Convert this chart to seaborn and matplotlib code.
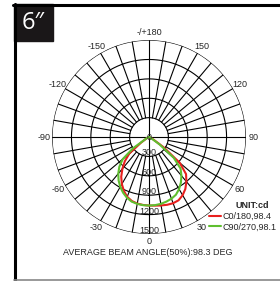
import numpy as np
import pandas as pd
import matplotlib
matplotlib.use("Agg")
import matplotlib.pyplot as plt
from matplotlib.lines import Line2D
from matplotlib.patches import Rectangle
import seaborn as sns

# photometric data (cd), gamma angle in degrees
gamma = [-90, -80, -70, -60, -55, -50, -45, -40, -35, -30, -25, -20, -15, -10, -5, 0,
         5, 10, 15, 20, 25, 30, 35, 40, 45, 50, 55, 60, 70, 80, 90]
c0_180 = [0, 5, 20, 50, 150, 400, 530, 640, 750, 840, 920, 985, 1025, 1045, 1055, 1060,
          1065, 1075, 1085, 1090, 1080, 1040, 980, 900, 810, 620, 280, 80, 20, 5, 0]
c90_270 = [0, 5, 20, 60, 300, 530, 650, 740, 820, 890, 950, 1000, 1035, 1050, 1058, 1060,
           1058, 1050, 1035, 1015, 985, 930, 860, 780, 690, 500, 200, 50, 20, 5, 0]

rings = [300, 600, 900, 1200, 1500]
angle_ticks = [0, 30, 60, 90, 120, 150, 180, -150, -120, -90, -60, -30]
angle_labels = ["0", "30", "60", "90", "120", "150", "-/+180", "-150", "-120", "-90", "-60", "-30"]
legend_labels = ["C0/180,98.4", "C90/270,98.1"]
colors = ["#e8201e", "#5fbf2f"]
title = "AVERAGE BEAM ANGLE(50%):98.3 DEG"

sns.set_theme(style="white")
plt.rcParams["font.family"] = ["Liberation Sans", "DejaVu Sans"]

fig = plt.figure(figsize=(2.80, 2.81), dpi=100)
fig.patch.set_facecolor("white")
ax = fig.add_axes([0.1857, 0.1673, 0.693, 0.690], projection="polar")
ax.set_theta_zero_location("S")
ax.set_theta_direction(1)
ax.set_ylim(0, 1500)
ax.grid(False)
ax.set_xticks([])
ax.set_yticks([])
ax.spines["polar"].set_visible(False)
ax.set_facecolor("white")

# grid: rings and spokes
full = np.linspace(0, 2 * np.pi, 361)
for r in rings:
    ax.plot(full, np.full_like(full, r), color="black", lw=0.8, zorder=1)
for a in range(0, 360, 10):
    t = np.deg2rad(a)
    r0 = 0 if a % 90 == 0 else 300
    ax.plot([t, t], [r0, 1500], color="black", lw=0.8, zorder=1)

# curves
df = pd.DataFrame({"theta": np.deg2rad(gamma), "C0": c0_180, "C90": c90_270})
sns.lineplot(x=df["theta"], y=df["C0"], ax=ax, sort=False, estimator=None,
             color=colors[0], lw=1.5, zorder=3)
sns.lineplot(x=df["theta"], y=df["C90"], ax=ax, sort=False, estimator=None,
             color=colors[1], lw=1.5, zorder=3)

# angle labels
for a, lab in zip(angle_ticks, angle_labels):
    rr = 1620 if a == 0 else 1625
    ax.text(np.deg2rad(a), rr, lab, ha="center", va="center", fontsize=6.5)

# radial labels
ax.text(0, 0, "0", ha="center", va="center", fontsize=6.5, zorder=4)
for r in rings:
    ax.text(0, r - 55, str(r), ha="center", va="center", fontsize=6.5, zorder=4)

fig.text(148 / 280, 1 - 252.5 / 281, title, ha="center", va="center", fontsize=6.5)

# legend
handles = [Line2D([], [], color=c, lw=1.5) for c in colors]
fig.legend(handles, legend_labels, loc="upper left",
           bbox_to_anchor=(209 / 280, 1 - 212 / 281), frameon=False,
           fontsize=6.5, handlelength=1.3, handletextpad=0.25,
           labelspacing=0.15, borderpad=0, borderaxespad=0)
fig.text(252 / 280, 1 - 206 / 281, "UNIT:cd", ha="center", va="center",
         fontsize=6.5, fontweight="bold")

# frame and size tag
fig.add_artist(Line2D([13 / 280, 1], [1 - 5 / 281, 1 - 5 / 281], color="black", lw=2.2))
fig.add_artist(Line2D([14.5 / 280, 14.5 / 280], [0, 1 - 4 / 281], color="black", lw=2.2))
fig.add_artist(Line2D([14 / 280, 1], [1.5 / 281, 1.5 / 281], color="#888888", lw=1.2))
fig.add_artist(Rectangle((14 / 280, 1 - 41 / 281), 39 / 280, 37 / 281,
                         transform=fig.transFigure, color="#1a1718"))
fig.text(33 / 280, 1 - 23 / 281, "6\u2033", ha="center", va="center",
         fontsize=17, color="white", family=["Open Sans", "DejaVu Sans"])

fig.savefig("out.png", dpi=100)
